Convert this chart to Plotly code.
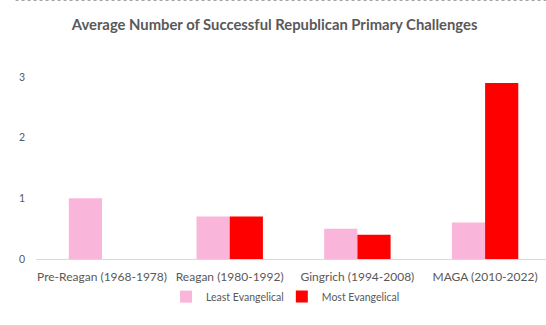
import plotly.graph_objects as go

categories = ["Pre-Reagan (1968-1978)", "Reagan (1980-1992)", "Gingrich (1994-2008)", "MAGA (2010-2022)"]
least_evangelical = [1.0, 0.7, 0.5, 0.6]
most_evangelical = [None, 0.7, 0.4, 2.9]
y_ticks = [0, 1, 2, 3]

PINK = "#F9B6DA"
RED = "#FF0000"
GREY = "#595959"
FONT = "Lato"

fig = go.Figure()
fig.add_trace(go.Bar(x=categories, y=least_evangelical, name="Least Evangelical",
                     marker=dict(color=PINK, line=dict(width=0)), legend="legend"))
fig.add_trace(go.Bar(x=categories, y=most_evangelical, name="Most Evangelical",
                     marker=dict(color=RED, line=dict(width=0)), legend="legend2"))

legend_common = dict(orientation="h", xanchor="left", y=-0.18, yanchor="middle",
                     bgcolor="rgba(0,0,0,0)", itemwidth=30,
                     font=dict(family=FONT, size=10.5, color=GREY))

fig.update_layout(
    width=546, height=325,
    margin=dict(l=36, r=0, t=50, b=66),
    paper_bgcolor="white", plot_bgcolor="white",
    barmode="group", bargap=0.48, bargroupgap=0,
    font=dict(family=FONT, color=GREY, size=11),
    title=dict(text="<b>Average Number of Successful Republican Primary Challenges</b>",
               x=0.503, xanchor="center", y=0.925, yanchor="middle",
               font=dict(family=FONT, size=14.8, color=GREY)),
    showlegend=True,
    legend=dict(x=0.255, **legend_common),
    legend2=dict(x=0.482, **legend_common),
    shapes=[dict(type="line", xref="paper", yref="paper", x0=-0.04, x1=1.0, y0=1.238, y1=1.238,
                 line=dict(color="#888888", width=1, dash="dot"))],
)
fig.update_xaxes(range=[-0.517, 3.477], showline=True, linecolor="#D9D9D9", linewidth=1,
                 ticks="", ticklabelstandoff=7,
                 tickfont=dict(family=FONT, size=12, color=GREY), showgrid=False)
fig.update_yaxes(range=[0, 3.445], tickvals=y_ticks, showgrid=False, zeroline=False,
                 showline=False, ticks="", ticklabelstandoff=10,
                 tickfont=dict(family=FONT, size=10.5, color=GREY))

fig.write_html("out.html")
